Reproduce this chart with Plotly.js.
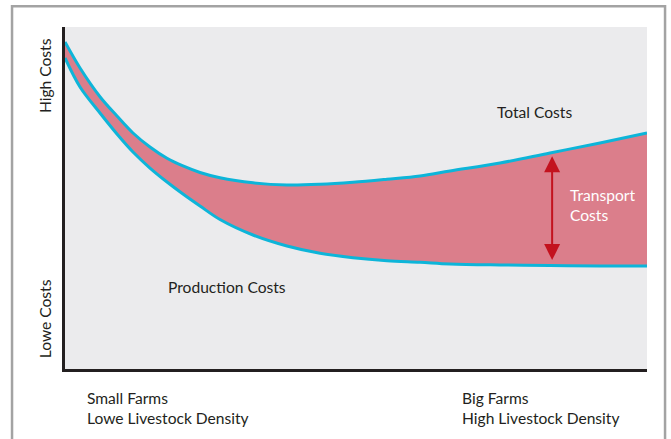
<!DOCTYPE html>
<html>
<head>
<meta charset="utf-8">
<script src="https://cdn.plot.ly/plotly-3.0.1.min.js"></script>
<style>
html,body{margin:0;padding:0;background:#fff;}
#chart{width:671px;height:439px;}
</style>
</head>
<body>
<div id="chart"></div>
<script>
// Farm size / livestock density (0 = small farms, 100 = big farms)
const farmScale = [0, 2.58, 6.01, 8.93, 11.68, 14.60, 17.53, 20.27, 23.20, 26.63, 32.30, 38.14, 43.81, 49.48, 55.33, 61.00, 66.15, 74.74, 83.33, 91.92, 100];
// Relative cost level (0 = low, 100 = high)
const productionCosts = [90.94, 82.46, 74.85, 68.71, 63.45, 58.77, 54.68, 51.17, 47.66, 43.71, 39.18, 35.96, 33.83, 32.54, 31.67, 31.20, 30.70, 30.41, 30.26, 30.12, 30.12];
const totalCosts = [95.61, 88.01, 79.62, 73.98, 69.01, 64.91, 61.61, 59.36, 57.46, 55.91, 54.44, 53.80, 54.00, 54.59, 55.47, 56.43, 57.89, 60.23, 63.16, 66.08, 69.01];
// Transport cost arrow location
const arrowX = 83.7;
const arrowTop = 62.2;
const arrowBottom = 31.4;

const labelsText = {
  total: "Total Costs",
  production: "Production Costs",
  transport: "Transport<br>Costs",
  high: "High Costs",
  low: "Lowe Costs",
  small: "Small Farms<br>Lowe Livestock Density",
  big: "Big Farms<br>High Livestock Density"
};

const cyan = "#0db5d9";
const pink = "#db7e8b";
const txt = "#231f20";
const fontFam = "Lato, 'Open Sans', sans-serif";
const fs = 15.6;

const traces = [
  {x: farmScale, y: productionCosts, type: "scatter", mode: "lines",
   line: {color: cyan, width: 3, shape: "spline", smoothing: 1}, hoverinfo: "skip"},
  {x: farmScale, y: totalCosts, type: "scatter", mode: "lines", fill: "tonexty",
   fillcolor: pink, line: {color: cyan, width: 3, shape: "spline", smoothing: 1}, hoverinfo: "skip"}
];

function lab(text, x, y, opts) {
  return Object.assign({text: text, x: x, y: y, xref: "paper", yref: "paper", showarrow: false,
    font: {family: fontFam, size: fs, color: txt}, xanchor: "center", yanchor: "middle", align: "left"}, opts || {});
}

const layout = {
  width: 671, height: 439,
  margin: {l: 65, r: 24, t: 27, b: 70},
  paper_bgcolor: "#ffffff",
  plot_bgcolor: "#ebebed",
  showlegend: false,
  xaxis: {range: [0, 100], showgrid: false, zeroline: false, showticklabels: false, ticks: "",
          showline: true, linecolor: txt, linewidth: 3, fixedrange: true},
  yaxis: {range: [0, 100], showgrid: false, zeroline: false, showticklabels: false, ticks: "",
          showline: true, linecolor: txt, linewidth: 3, fixedrange: true},
  shapes: [
    {type: "rect", xref: "paper", yref: "paper", x0: -0.091, x1: 1.031, y0: -0.35, y1: 1.061,
     line: {color: "#a3a3a3", width: 2.5}, fillcolor: "rgba(0,0,0,0)", layer: "below"}
  ],
  annotations: [
    {x: arrowX, y: arrowTop, ax: arrowX, ay: arrowBottom, xref: "x", yref: "y", axref: "x", ayref: "y",
     text: "", showarrow: true, arrowhead: 2, arrowsize: 1.6, arrowwidth: 2, arrowcolor: "#c3121e",
     arrowside: "end+start", startarrowhead: 2, startarrowsize: 1.6},
    lab(labelsText.total, 0.807, 0.751),
    lab(labelsText.production, 0.278, 0.240),
    lab(labelsText.transport, 0.864, 0.480, {xanchor: "left", font: {family: fontFam, size: fs, color: "#ffffff"}}),
    lab(labelsText.high, -0.034, 0.857, {textangle: -90}),
    lab(labelsText.low, -0.034, 0.146, {textangle: -90}),
    lab(labelsText.small, 0.034, -0.114, {xanchor: "left"}),
    lab(labelsText.big, 0.679, -0.114, {xanchor: "left"})
  ]
};

Plotly.newPlot("chart", traces, layout, {displayModeBar: false, staticPlot: true});
</script>
</body>
</html>
